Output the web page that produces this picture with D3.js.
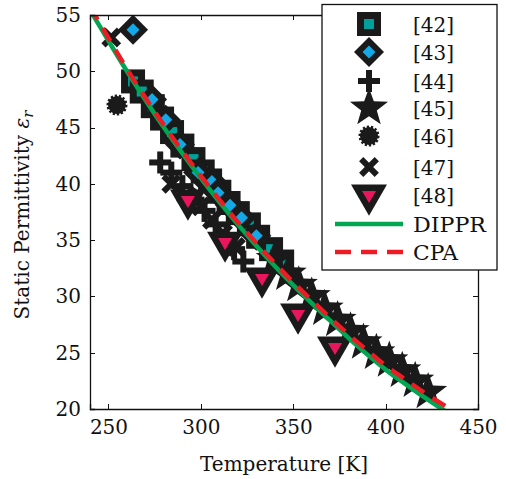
<!DOCTYPE html>
<html><head><meta charset="utf-8">
<script src="https://cdn.jsdelivr.net/npm/d3@7"></script>
<style>html,body{margin:0;padding:0;background:#fff;}svg{display:block;} svg text{font-family:"DejaVu Serif",serif;}</style>
</head><body>
<script>
// ---- data ----
const xTicks = [250, 300, 350, 400, 450];
const yTicks = [20, 25, 30, 35, 40, 45, 50, 55];
const dipprT = [240,250,260,270,280,290,300,310,320,330,340,350,360,370,380,390,400,410,420,430,432];
const dipprE = [55.45,52.7,50.0,47.45,45.0,42.7,40.5,38.4,36.4,34.5,32.7,31.0,29.4,27.85,26.3,24.85,23.5,22.3,21.15,20.05,19.85];
const cpaT = [240,250,260,270,280,290,300,310,320,330,340,350,360,370,380,390,400,410,420,430,434];
const cpaE = [55.75,52.95,50.2,47.65,45.2,42.9,40.7,38.6,36.6,34.75,32.95,31.25,29.65,28.1,26.6,25.2,23.85,22.7,21.55,20.5,20.1];
const s42T = [263.3,268,274,279,284.4,290,296,301,305,310,315,320,326,331,338,344];
const s42E = [49.1,48.2,46.9,45.8,44.6,43.4,42.2,41.1,40.3,39.3,38.3,37.4,36.4,35.3,34.2,33.1];
const s43T = [263.3,273.6,281,288.7,298.5,306,309.3,315.8,322,330];
const s43E = [53.7,47.5,45.7,43.5,41.0,40.2,39.2,38.1,37.0,35.4];
const s44T = [278,284,290,296,302,308,314,318,323];
const s44E = [41.9,41.0,39.8,38.6,37.6,36.4,35.4,34.2,33.1];
const s45T = [340,347,353,360,367,374,381,388,395,402,409,416,423];
const s45E = [33.3,32.0,31.0,30.0,28.9,27.9,26.9,25.9,25.0,24.3,23.4,22.5,21.5];
const s46T = [254.6];
const s46E = [47.0];
const s47T = [251.5,284,292,300,306,312,319];
const s47E = [53.0,40.0,39.0,38.0,36.8,35.6,34.4];
const s48T = [293.0,313.1,333.1,352.6,372.6];
const s48E = [38.57,34.83,31.64,28.44,25.51];
const legendLabels = ["[42]","[43]","[44]","[45]","[46]","[47]","[48]","DIPPR","CPA"];

// ---- layout ----
const W = 506, H = 479;
const m = {left: 90, right: 478, top: 15, bottom: 409};
const C = {teal:"#00a19a", blue:"#14a9e6", pink:"#e8175d", green:"#00a651", red:"#ed1c24", black:"#1a1a1a"};
const FS = "20px";

const svg = d3.select("body").append("svg").attr("width", W).attr("height", H);
const x = d3.scaleLinear().domain([240, 450]).range([m.left, m.right]);
const y = d3.scaleLinear().domain([20, 55]).range([m.bottom, m.top]);

svg.append("defs").append("clipPath").attr("id","clip")
  .append("rect").attr("x", m.left).attr("y", m.top).attr("width", m.right-m.left).attr("height", m.bottom-m.top);

function star(ro, ri){ const p=[]; for(let i=0;i<10;i++){const r=i%2?ri:ro; const a=-Math.PI/2+i*Math.PI/5; p.push([r*Math.cos(a), r*Math.sin(a)]);} return "M"+p.join("L")+"Z"; }
function tri(w){ const h=w*Math.sqrt(3)/2; return `M${-w/2},${-h/3}L${w/2},${-h/3}L0,${2*h/3}Z`; }
function diamond(r){ return `M0,${-r}L${r},0L0,${r}L${-r},0Z`; }
const draw = {
  sq: g => { g.append("rect").attr("x",-12).attr("y",-12).attr("width",24).attr("height",24).attr("fill",C.black);
             g.append("rect").attr("x",-5).attr("y",-5).attr("width",10).attr("height",10).attr("fill",C.teal); },
  di: g => { g.append("path").attr("d",diamond(15)).attr("fill",C.black);
             g.append("path").attr("d",diamond(6.5)).attr("fill",C.blue); },
  pl: g => { g.append("rect").attr("x",-11).attr("y",-3).attr("width",22).attr("height",6).attr("fill",C.black);
             g.append("rect").attr("x",-3).attr("y",-11).attr("width",6).attr("height",22).attr("fill",C.black); },
  st: g => { g.append("path").attr("d",star(20,8.2)).attr("fill",C.black); },
  ci: g => { g.append("circle").attr("r",9).attr("fill",C.black).attr("stroke",C.black).attr("stroke-width",3).attr("stroke-dasharray","2.2,1.8"); },
  xx: g => { g.append("rect").attr("x",-11).attr("y",-3).attr("width",22).attr("height",6).attr("fill",C.black).attr("transform","rotate(45)");
             g.append("rect").attr("x",-11).attr("y",-3).attr("width",22).attr("height",6).attr("fill",C.black).attr("transform","rotate(-45)"); },
  tr: g => { g.append("path").attr("d",tri(36)).attr("fill",C.black);
             g.append("path").attr("d",tri(14)).attr("fill",C.pink); }
};

const series = [
  {T:s42T, E:s42E, k:"sq"}, {T:s43T, E:s43E, k:"di"}, {T:s44T, E:s44E, k:"pl"},
  {T:s45T, E:s45E, k:"st"}, {T:s46T, E:s46E, k:"ci"}, {T:s47T, E:s47E, k:"xx"}, {T:s48T, E:s48E, k:"tr"}
];

const plot = svg.append("g").attr("clip-path","url(#clip)");
series.forEach(s => {
  const pts = s.T.map((t,i)=>[t, s.E[i]]);
  plot.append("g").selectAll("g").data(pts).join("g")
    .attr("transform", d => `translate(${x(d[0])},${y(d[1])})`)
    .each(function(){ draw[s.k](d3.select(this)); });
});

const line = d3.line().x(d=>x(d[0])).y(d=>y(d[1])).curve(d3.curveMonotoneX);
plot.append("path").datum(dipprT.map((t,i)=>[t,dipprE[i]])).attr("d", line)
  .attr("fill","none").attr("stroke",C.green).attr("stroke-width",4.5);
plot.append("path").datum(cpaT.map((t,i)=>[t,cpaE[i]])).attr("d", line)
  .attr("fill","none").attr("stroke",C.red).attr("stroke-width",4.5).attr("stroke-dasharray","15,10");

// axes (box with inward ticks)
const axB = d3.axisBottom(x).tickValues(xTicks).tickSize(-5).tickPadding(11).tickFormat(d3.format("d"));
const axT = d3.axisTop(x).tickValues(xTicks).tickSize(-5).tickFormat("");
const axL = d3.axisLeft(y).tickValues(yTicks).tickSize(-5).tickPadding(9).tickFormat(d3.format("d"));
const axR = d3.axisRight(y).tickValues(yTicks).tickSize(-5).tickFormat("");
function style(g){ g.attr("font-family", null).attr("font-size", null);
  g.select(".domain").attr("stroke","#111").attr("stroke-width",1.3);
  g.selectAll(".tick line").attr("stroke","#111").attr("stroke-width",1).attr("shape-rendering","crispEdges");
  g.selectAll("text").style("font-size",FS).attr("fill","#111"); }
svg.append("g").attr("transform",`translate(0,${m.bottom})`).call(axB).call(style);
svg.append("g").attr("transform",`translate(0,${m.top})`).call(axT).call(style);
svg.append("g").attr("transform",`translate(${m.left},0)`).call(axL).call(style);
svg.append("g").attr("transform",`translate(${m.right},0)`).call(axR).call(style);

// axis titles
svg.append("text").attr("x", 284).attr("y", 471).attr("text-anchor","middle")
  .style("font-size",FS).attr("fill","#111")
  .attr("textLength",168).attr("lengthAdjust","spacingAndGlyphs").text("Temperature [K]");
const yt = svg.append("text").attr("transform","translate(29,215) rotate(-90)").attr("text-anchor","middle")
  .style("font-size",FS).attr("fill","#111");
yt.append("tspan").text("Static Permittivity ");
yt.append("tspan").attr("font-style","italic").text("ε");
yt.append("tspan").attr("font-style","italic").style("font-size","15px").attr("dy",4).text("r");

// legend
const lg = svg.append("g");
lg.append("rect").attr("x",322).attr("y",4.5).attr("width",175).attr("height",265.5)
  .attr("fill","#fff").attr("stroke","#111").attr("stroke-width",1.3);
const rowY = [24, 52, 81, 108, 136, 167, 195, 224, 252];
const kinds = ["sq","di","pl","st","ci","xx","tr"];
kinds.forEach((k,i)=>{ const g = lg.append("g").attr("transform",`translate(369,${rowY[i]})`); draw[k](g); });
lg.append("line").attr("x1",335).attr("x2",403).attr("y1",rowY[7]).attr("y2",rowY[7]).attr("stroke",C.green).attr("stroke-width",4.5);
lg.append("line").attr("x1",335).attr("x2",403).attr("y1",rowY[8]).attr("y2",rowY[8]).attr("stroke",C.red).attr("stroke-width",4.5).attr("stroke-dasharray","16,10");
legendLabels.forEach((t,i)=>{
  const tx = lg.append("text").attr("x",413).attr("y",rowY[i]+8).style("font-size",FS).attr("fill","#111").text(t);
  if (t==="DIPPR") tx.attr("textLength",73).attr("lengthAdjust","spacingAndGlyphs");
  if (t==="CPA") tx.attr("textLength",45).attr("lengthAdjust","spacingAndGlyphs");
});
</script>
</body></html>
